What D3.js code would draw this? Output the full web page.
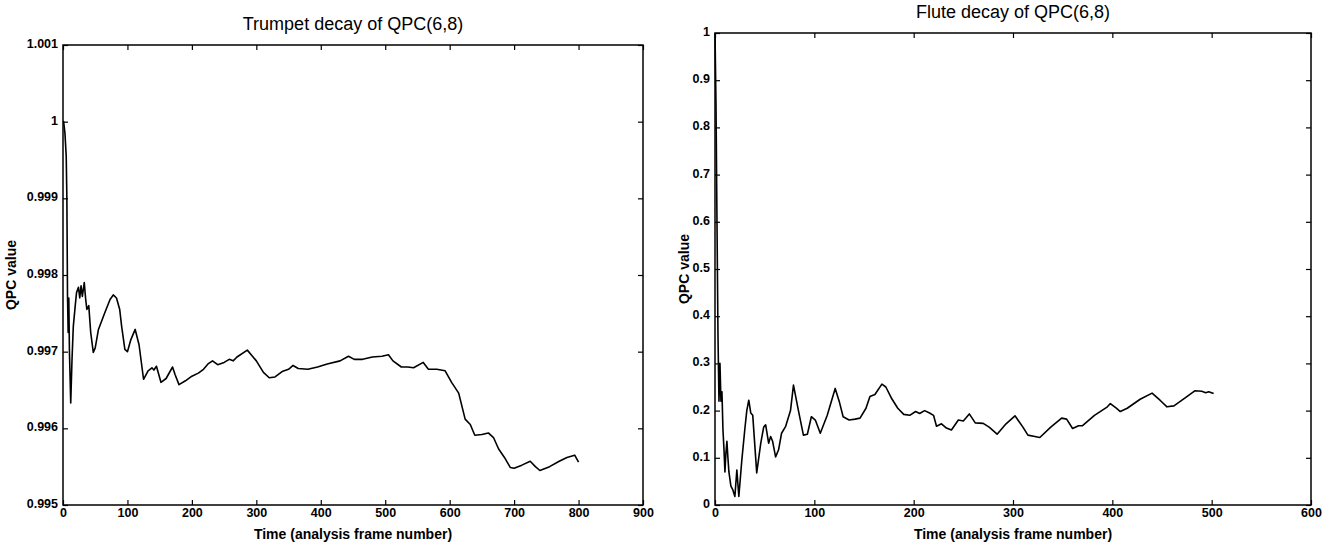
<!DOCTYPE html>
<html>
<head>
<meta charset="utf-8">
<script src="https://cdn.jsdelivr.net/npm/d3@7"></script>
<style>
  body { margin: 0; background: #fff; }
  svg { font-family: "Liberation Sans", Arial, Helvetica, sans-serif; }
  .tick text { font-size: 12.5px; font-weight: bold; fill: #000; }
  .tick line { stroke: #000; stroke-width: 1.2px; }
</style>
</head>
<body>
<div id="chart"></div>
<script>
// trumpet decay of QPC(6,8)
var trumpetFrames = [0, 1, 3, 5, 6, 7, 8, 9, 10, 12, 14, 16, 19, 21, 24, 26, 28, 30, 33, 35, 37, 40, 43, 47, 50, 55, 60, 65, 73, 78, 83, 88, 91, 96, 100,
  105, 112, 118, 125, 132, 138, 141, 145, 152, 160, 170, 174, 180, 190, 200, 210, 218, 225, 232, 240, 250, 258, 264, 270, 286, 293, 300,
  311, 320, 329, 340, 350, 357, 365, 380, 395, 410, 430, 443, 452, 465, 480, 495, 505, 512, 525, 535, 544, 559, 567, 580, 593, 603,
  614, 624, 632, 639, 650, 660, 668, 676, 685, 694, 700, 712, 725, 733, 740, 755, 770, 782, 794, 800];
var trumpetValues = [1.0000, 1.0000, 0.99985, 0.99955, 0.99900, 0.99772, 0.99725, 0.99770, 0.99700, 0.99633, 0.99690, 0.99733, 0.99760, 0.99777,
  0.99784, 0.99770, 0.99786, 0.99772, 0.99790, 0.99770, 0.99755, 0.99760, 0.99725, 0.99699, 0.99705, 0.99729, 0.99740, 0.99751, 0.99768,
  0.99774, 0.99770, 0.99755, 0.99733, 0.99703, 0.99700, 0.99715, 0.99729, 0.99709, 0.99664, 0.99675, 0.99679, 0.99676, 0.99681, 0.99660,
  0.99665, 0.99680, 0.99670, 0.99657, 0.99662, 0.99668, 0.99672, 0.99677, 0.99684, 0.99688, 0.99683, 0.99686, 0.99690, 0.99688, 0.99693,
  0.99702, 0.99695, 0.99688, 0.99673, 0.99666, 0.99667, 0.99674, 0.99677, 0.99682, 0.99678, 0.99677, 0.99680, 0.99684, 0.99688, 0.99694,
  0.99690, 0.99690, 0.99693, 0.99694, 0.99696, 0.99688, 0.99680, 0.99680, 0.99679, 0.99686, 0.99677, 0.99677, 0.99675, 0.99660, 0.99646,
  0.99612, 0.99605, 0.99591, 0.99592, 0.99594, 0.99588, 0.99573, 0.99562, 0.99549, 0.99548, 0.99552, 0.99557, 0.99550, 0.99545, 0.99550,
  0.99557, 0.99562, 0.99565, 0.99556];
var trumpetXTicks = [0, 100, 200, 300, 400, 500, 600, 700, 800, 900];
var trumpetYTicks = [0.995, 0.996, 0.997, 0.998, 0.999, 1, 1.001];

// flute decay of QPC(6,8)
var fluteFrames = [0, 1, 2, 3, 4, 5, 6, 7, 8, 9, 10, 11, 12, 13, 14, 16, 18, 20, 22, 24, 27, 30, 32, 34, 36, 38, 42, 46, 49, 51, 54, 56, 58, 61,
  64, 67, 71, 76, 79, 84, 89, 93, 97, 101, 106, 113, 121, 125, 129, 135, 141, 146, 152, 156, 161, 168, 172, 178, 184, 190, 196, 202, 206,
  211, 216, 220, 223, 228, 233, 238, 245, 250, 256, 262, 270, 276, 284, 293, 302, 310, 315, 322, 327, 338, 349, 354, 360, 366, 370, 382,
  395, 398, 404, 408, 415, 428, 440, 448, 455, 462, 474, 483, 490, 494, 497, 502];
var fluteValues = [1.0, 0.85, 0.6, 0.36, 0.22, 0.30, 0.22, 0.24, 0.16, 0.12, 0.07, 0.11, 0.135, 0.1, 0.07, 0.04, 0.032, 0.018, 0.074, 0.018,
  0.095, 0.16, 0.2, 0.222, 0.195, 0.19, 0.068, 0.13, 0.165, 0.17, 0.131, 0.145, 0.135, 0.102, 0.117, 0.152, 0.166, 0.2, 0.254, 0.2, 0.148,
  0.15, 0.187, 0.18, 0.152, 0.19, 0.247, 0.22, 0.187, 0.18, 0.182, 0.184, 0.205, 0.23, 0.234, 0.256, 0.25, 0.225, 0.205, 0.192, 0.19, 0.198,
  0.194, 0.2, 0.195, 0.19, 0.167, 0.172, 0.163, 0.159, 0.18, 0.178, 0.193, 0.174, 0.173, 0.165, 0.15, 0.172, 0.189, 0.165, 0.148, 0.145,
  0.143, 0.165, 0.184, 0.182, 0.162, 0.168, 0.168, 0.19, 0.208, 0.215, 0.205, 0.198, 0.205, 0.224, 0.237, 0.222, 0.208, 0.21, 0.228, 0.242,
  0.241, 0.238, 0.24, 0.236];
var fluteXTicks = [0, 100, 200, 300, 400, 500, 600];
var fluteYTicks = [0, 0.1, 0.2, 0.3, 0.4, 0.5, 0.6, 0.7, 0.8, 0.9, 1];

var svg = d3.select("#chart").append("svg")
  .attr("width", 1333)
  .attr("height", 542);

function drawPanel(opt) {
  var x = d3.scaleLinear().domain(opt.xDomain).range([opt.left, opt.right]);
  var y = d3.scaleLinear().domain(opt.yDomain).range([opt.bottom, opt.top]);
  var g = svg.append("g");

  // data line
  var line = d3.line()
    .x(function(d) { return x(d[0]); })
    .y(function(d) { return y(d[1]); });
  g.append("path")
    .datum(d3.zip(opt.frames, opt.values))
    .attr("d", line)
    .style("fill", "none")
    .style("stroke", "#000")
    .style("stroke-width", 1.6)
    .style("stroke-linejoin", "round");

  // ticks point inward on all four sides
  g.append("g").attr("transform", "translate(0," + opt.bottom + ")")
    .call(d3.axisBottom(x).tickValues(opt.xTicks).tickSizeInner(-5).tickSizeOuter(0).tickPadding(3).tickFormat(d3.format("d")))
    .call(function(a) { a.select(".domain").remove(); });
  g.append("g").attr("transform", "translate(0," + opt.top + ")")
    .call(d3.axisTop(x).tickValues(opt.xTicks).tickSizeInner(-5).tickSizeOuter(0).tickFormat(""))
    .call(function(a) { a.select(".domain").remove(); });
  g.append("g").attr("transform", "translate(" + opt.left + ",0)")
    .call(d3.axisLeft(y).tickValues(opt.yTicks).tickSizeInner(-5).tickSizeOuter(0).tickPadding(5).tickFormat(function(d) { return String(+d.toFixed(4)); }))
    .call(function(a) { a.select(".domain").remove(); a.selectAll("text").attr("dy", "0.2em"); });
  g.append("g").attr("transform", "translate(" + opt.right + ",0)")
    .call(d3.axisRight(y).tickValues(opt.yTicks).tickSizeInner(-5).tickSizeOuter(0).tickFormat(""))
    .call(function(a) { a.select(".domain").remove(); });

  // box
  g.append("rect")
    .attr("x", opt.left).attr("y", opt.top)
    .attr("width", opt.right - opt.left).attr("height", opt.bottom - opt.top)
    .style("fill", "none").style("stroke", "#000").style("stroke-width", 1.5);

  // titles
  g.append("text")
    .attr("x", (opt.left + opt.right) / 2).attr("y", opt.titleY)
    .style("text-anchor", "middle").style("font-size", "18px")
    .text(opt.title);
  g.append("text")
    .attr("x", (opt.left + opt.right) / 2).attr("y", 539)
    .style("text-anchor", "middle").style("font-size", "14px").style("font-weight", "bold")
    .text("Time (analysis frame number)");
  g.append("text")
    .attr("transform", "translate(" + opt.yLabelX + "," + ((opt.top + opt.bottom) / 2) + ") rotate(-90)")
    .style("text-anchor", "middle").style("font-size", "14px").style("font-weight", "bold")
    .text("QPC value");
}

drawPanel({
  frames: trumpetFrames, values: trumpetValues,
  xDomain: [0, 900], yDomain: [0.995, 1.001],
  xTicks: trumpetXTicks, yTicks: trumpetYTicks,
  left: 63, right: 643, top: 45, bottom: 505,
  title: "Trumpet decay of QPC(6,8)", titleY: 30, yLabelX: 16
});

drawPanel({
  frames: fluteFrames, values: fluteValues,
  xDomain: [0, 600], yDomain: [0, 1],
  xTicks: fluteXTicks, yTicks: fluteYTicks,
  left: 715, right: 1311, top: 33, bottom: 505,
  title: "Flute decay of QPC(6,8)", titleY: 18, yLabelX: 689
});
</script>
</body>
</html>
